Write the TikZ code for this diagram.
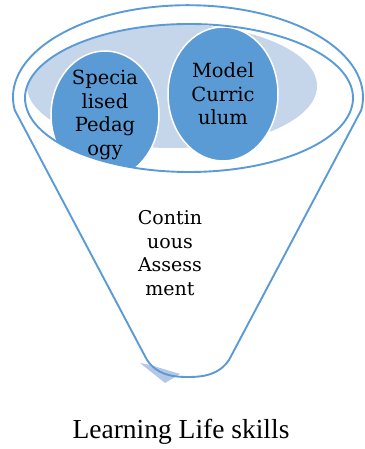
\documentclass[tikz,border=0pt]{standalone}
\usepackage{fontspec}
\setmainfont{DejaVu Serif}
\newfontfamily\capfont{Liberation Serif}
\usetikzlibrary{shapes.geometric}
\definecolor{rimC}  {RGB}{ 91, 155, 213}
\definecolor{paleC} {RGB}{197, 213, 234}
\definecolor{tipC}  {RGB}{180, 199, 231}
\tikzset{
  rim/.style     = {draw=rimC, line width=1.9pt, line join=round},
  bubble/.style  = {ellipse, fill=rimC, draw=white, line width=1.5pt,
                    inner sep=0pt, align=center, font=\fontsize{19.5}{23.5}\selectfont},
  body/.style    = {align=center, font=\fontsize{19}{23.5}\selectfont},
  caption/.style = {font=\capfont\fontsize{27.5}{32}\selectfont},
}
\begin{document}
\begin{tikzpicture}[x=1pt, y=1pt]
\useasboundingbox (0,0) rectangle (364,449);

% ---- Funnel tip shading -----------------------------------------------------
\fill[tipC] (140,86) -- (165,66) -- (180,75) -- (150,84) -- cycle;

% ---- Funnel outline: top rim arc, sides and rounded bottom ------------------
\draw[rim] (147,89) -- (14.7,339)
  arc[start angle=188, end angle=-8, x radius=175, y radius=92]
  -- (229,89) to[out=-125, in=0] (188,72) to[out=180, in=-55] cycle;

% ---- Inside of the rim ------------------------------------------------------
\begin{scope}
  \clip (189,351) ellipse[x radius=164, y radius=74];
  \fill[paleC] (172,363) ellipse[x radius=145, y radius=62];
  \node[bubble, minimum width=108pt, minimum height=128pt] (pedagogy)
    at (105,334) {Specia\\lised\\Pedag\\ogy};
\end{scope}
\node[bubble, minimum width=110pt, minimum height=134pt] (curriculum)
  at (223,355) {Model\\Curric\\ulum};
\draw[rim] (189,351) ellipse[x radius=164, y radius=74];

% ---- Labels -----------------------------------------------------------------
\node[body] (assessment) at (170,196) {Contin\\uous\\Assess\\ment};
\node[caption] (skills) at (181,17) {Learning Life skills};

\end{tikzpicture}
\end{document}
